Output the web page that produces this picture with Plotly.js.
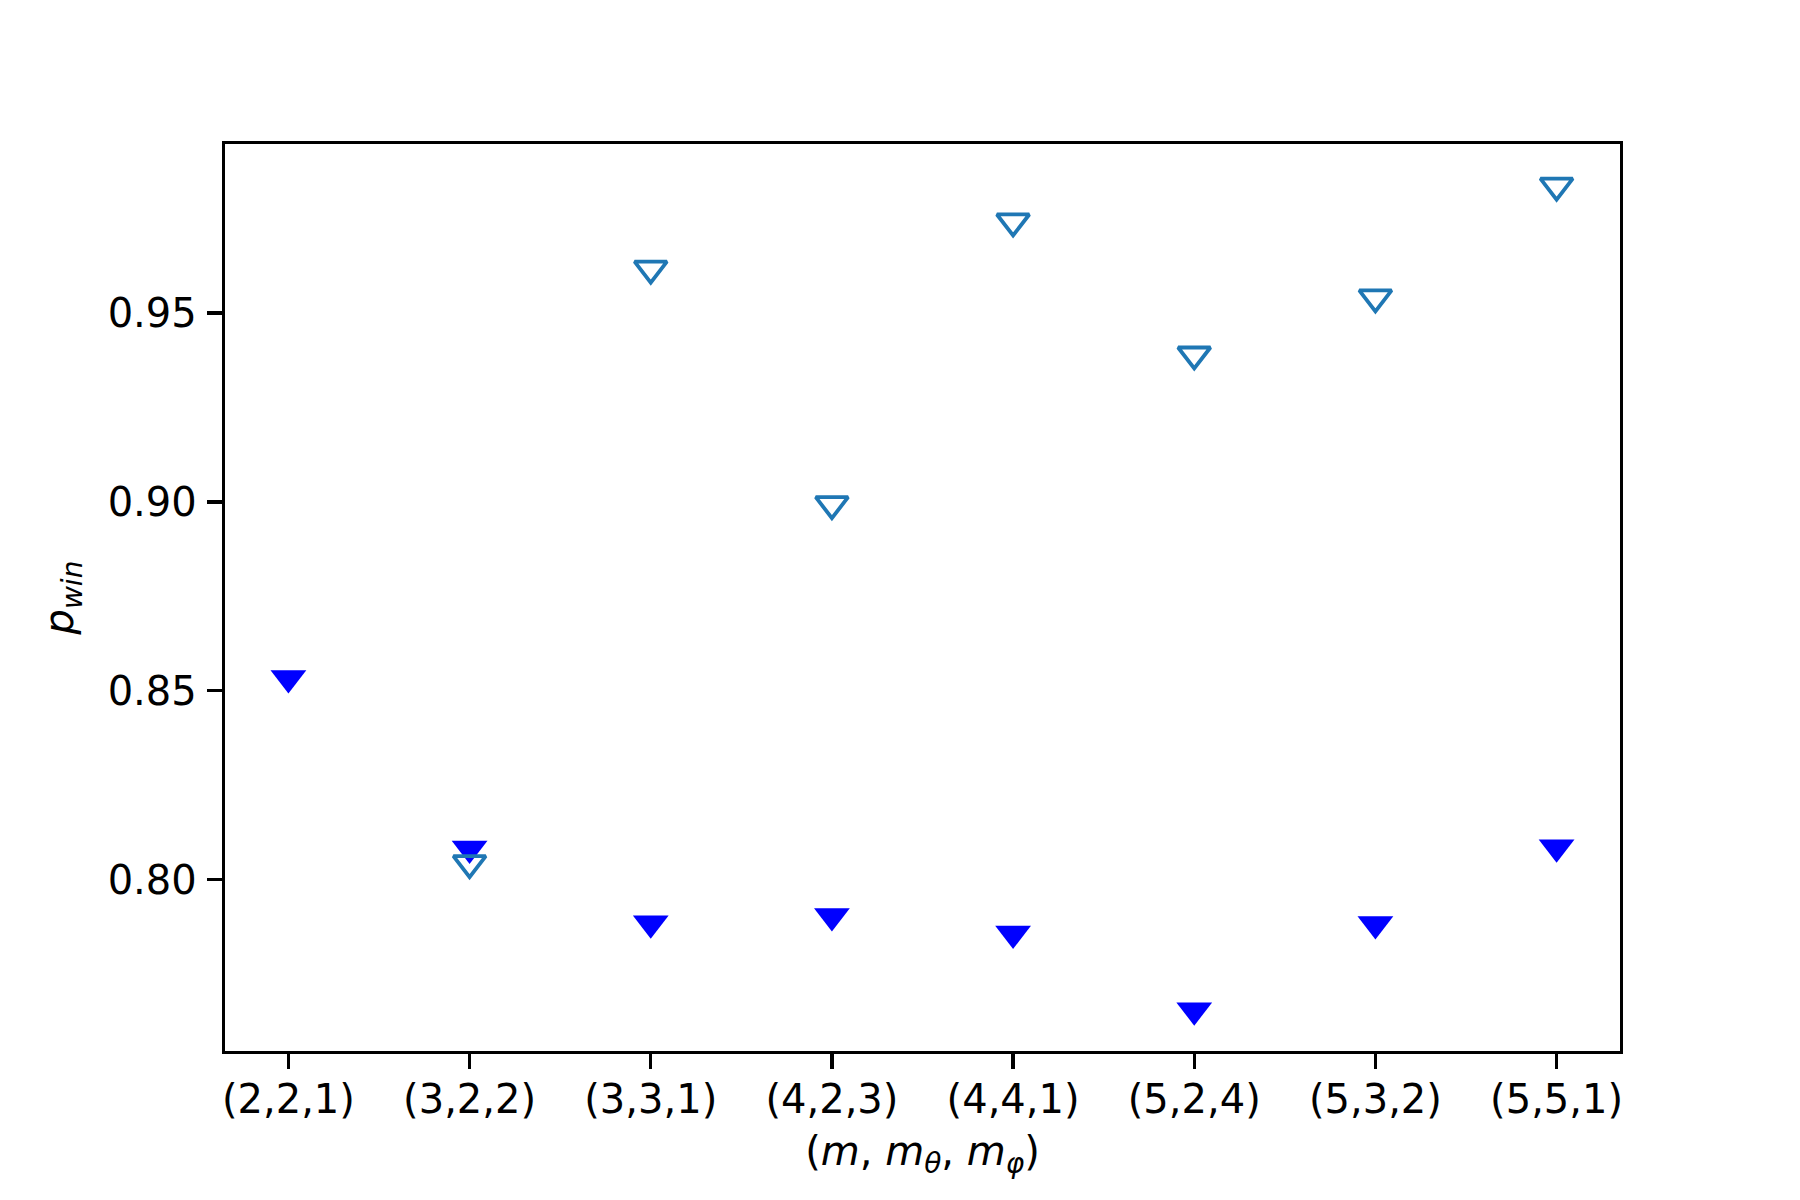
<!DOCTYPE html>
<html>
<head>
<meta charset="utf-8">
<script src="https://cdn.plot.ly/plotly-3.0.1.min.js"></script>
<style>
  html, body { margin: 0; padding: 0; background: #fff; }
  #chart { width: 1800px; height: 1200px; }
</style>
</head>
<body>
<div id="chart"></div>
<script>
'use strict';

// parameter triples (m, m_theta, m_phi)
var configs = ['(2,2,1)', '(3,2,2)', '(3,3,1)', '(4,2,3)', '(4,4,1)', '(5,2,4)', '(5,3,2)', '(5,5,1)'];

// solid blue markers
var pwinFilled = [0.8534, 0.8083, 0.7885, 0.7904, 0.7858, 0.7655, 0.7883, 0.8086];

// open markers (no value for the first config)
var openConfigs = ['(3,2,2)', '(3,3,1)', '(4,2,3)', '(4,4,1)', '(5,2,4)', '(5,3,2)', '(5,5,1)'];
var pwinOpen = [0.8044, 0.9617, 0.8994, 0.9742, 0.9390, 0.9541, 0.9837];

var yTicks = [0.80, 0.85, 0.90, 0.95];

var fontFamily = 'DejaVu Sans, sans-serif';

var data = [
  {
    x: configs,
    y: pwinFilled,
    mode: 'markers',
    type: 'scatter',
    showlegend: false,
    marker: { symbol: 'triangle-down', size: 31, color: '#0000ff', line: { width: 0 } }
  },
  {
    x: openConfigs,
    y: pwinOpen,
    mode: 'markers',
    type: 'scatter',
    showlegend: false,
    marker: { symbol: 'triangle-down-open', size: 28, color: '#1f77b4', line: { width: 3.8, color: '#1f77b4' } }
  }
];

var layout = {
  width: 1800,
  height: 1200,
  paper_bgcolor: '#ffffff',
  plot_bgcolor: '#ffffff',
  font: { family: fontFamily, size: 40, color: '#000000' },
  margin: { l: 225, r: 180, t: 144, b: 149, pad: 0 },
  xaxis: {
    type: 'category',
    categoryorder: 'array',
    categoryarray: configs,
    range: [-0.35, 7.35],
    showgrid: false,
    zeroline: false,
    showline: true,
    mirror: true,
    linecolor: '#000000',
    linewidth: 3.3,
    ticks: 'outside',
    ticklen: 15,
    tickwidth: 3.3,
    tickcolor: '#000000',
    ticklabelstandoff: -4,
    tickfont: { family: fontFamily, size: 40 },
    title: {
      text: '(<i>m</i>, <i>m</i><sub><i>θ</i></sub>, <i>m</i><sub><i>φ</i></sub>)',
      font: { family: fontFamily, size: 40 },
      standoff: 16
    }
  },
  yaxis: {
    range: [0.7547, 0.9947],
    tickvals: yTicks,
    ticktext: yTicks.map(function (v) { return v.toFixed(2); }),
    showgrid: false,
    zeroline: false,
    showline: true,
    mirror: true,
    linecolor: '#000000',
    linewidth: 3.3,
    ticks: 'outside',
    ticklen: 15,
    tickwidth: 3.3,
    tickcolor: '#000000',
    ticklabelstandoff: 2,
    tickfont: { family: fontFamily, size: 40 },
    title: {
      text: '<i>p</i><sub><i>win</i></sub>',
      font: { family: fontFamily, size: 40 },
      standoff: 22
    }
  }
};

Plotly.newPlot('chart', data, layout, { staticPlot: true, displayModeBar: false });
</script>
</body>
</html>
